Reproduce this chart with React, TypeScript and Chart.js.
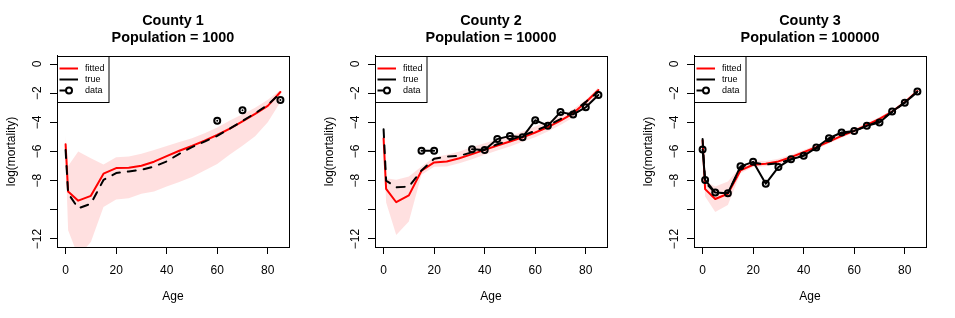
import React, { useEffect, useRef } from 'react';
import { Chart, registerables } from 'chart.js';

Chart.register(...registerables);
Chart.defaults.font.family = "'Liberation Sans', Arial, Helvetica, sans-serif";
Chart.defaults.color = '#000';

// ---------- data ----------
const ages = [0, 1, 5, 10, 15, 20, 25, 30, 35, 40, 45, 50, 55, 60, 65, 70, 75, 80, 85];
const xTicks = [0, 20, 40, 60, 80];
const yTicks = [0, -2, -4, -6, -8, -10, -12];
const yTickLabels = ['0', '\u22122', '\u22124', '\u22126', '\u22128', '', '\u221212'];

const countyTitles = ['County 1', 'County 2', 'County 3'];
const populationTitles = ['Population = 1000', 'Population = 10000', 'Population = 100000'];
const legendLabels = ['fitted', 'true', 'data'];
const xAxisTitle = 'Age';
const yAxisTitle = 'log(mortality)';

// County 1
const fitted1 = [-5.5, -8.75, -9.37, -9.04, -7.52, -7.14, -7.12, -6.98, -6.7, -6.32, -5.95, -5.62, -5.26, -4.87, -4.43, -3.93, -3.42, -2.87, -1.92];
const true1 = [-5.9, -8.87, -9.9, -9.58, -7.95, -7.48, -7.37, -7.26, -7.03, -6.68, -6.16, -5.7, -5.32, -4.93, -4.43, -3.9, -3.38, -2.8, -2.0];
const data1 = [null, null, null, null, null, null, null, null, null, null, null, null, null, -3.89, null, -3.18, null, null, -2.47];
const upper1 = [-4.9, -7.0, -6.0, -6.47, -6.9, -6.4, -6.35, -6.15, -5.9, -5.62, -5.35, -5.1, -4.75, -4.35, -3.88, -3.45, -3.0, -2.45, -1.78];
const lower1 = [-6.4, -11.4, -13.2, -12.2, -9.8, -9.3, -9.2, -8.9, -8.75, -8.4, -8.1, -7.75, -7.3, -6.85, -6.2, -5.6, -4.95, -4.0, -2.6];

// County 2
const fitted2 = [-5.1, -8.57, -9.48, -9.01, -7.32, -6.75, -6.68, -6.46, -6.18, -5.89, -5.59, -5.32, -5.02, -4.7, -4.33, -3.88, -3.38, -2.62, -1.78];
const true2 = [-4.48, -8.0, -8.46, -8.41, -7.3, -6.5, -6.34, -6.3, -6.05, -5.85, -5.5, -5.22, -4.92, -4.58, -4.22, -3.78, -3.26, -2.6, -1.9];
const data2 = [null, null, null, null, -5.95, -5.95, null, null, -5.85, -5.9, -5.15, -4.93, -5.02, -3.86, -4.23, -3.3, -3.46, -2.97, -2.13];
const upper2 = [-4.8, -7.84, -7.94, -7.71, -7.03, -6.39, -6.23, -6.0, -5.7, -5.43, -5.16, -4.93, -4.63, -4.29, -3.95, -3.56, -3.1, -2.46, -1.6];
const lower2 = [-5.4, -9.5, -11.73, -10.8, -7.6, -7.05, -7.03, -6.8, -6.53, -6.23, -5.93, -5.66, -5.34, -5.02, -4.63, -4.18, -3.67, -2.92, -2.0];

// County 3
const fitted3 = [-5.25, -8.58, -9.26, -8.9, -7.3, -6.91, -6.84, -6.68, -6.39, -6.05, -5.7, -5.32, -4.93, -4.59, -4.18, -3.76, -3.26, -2.62, -1.85];
const true3 = [-5.15, -8.1, -8.85, -8.85, -7.1, -6.75, -6.9, -6.8, -6.55, -6.25, -5.8, -5.2, -4.78, -4.6, -4.25, -3.9, -3.3, -2.65, -1.9];
const data3 = [-5.86, -7.95, -8.82, -8.86, -7.02, -6.71, -8.21, -7.07, -6.53, -6.3, -5.73, -5.09, -4.7, -4.59, -4.24, -4.02, -3.26, -2.65, -1.89];
const upper3 = [-5.1, -8.05, -8.4, -8.05, -7.05, -6.6, -6.65, -6.5, -6.22, -5.9, -5.56, -5.18, -4.8, -4.46, -4.05, -3.64, -3.14, -2.5, -1.72];
const lower3 = [-5.4, -9.08, -10.15, -9.67, -7.5, -7.07, -7.02, -6.85, -6.55, -6.2, -5.84, -5.46, -5.06, -4.72, -4.31, -3.88, -3.38, -2.74, -1.98];

const fittedAll = [fitted1, fitted2, fitted3];
const trueAll = [true1, true2, true3];
const dataAll = [data1, data2, data3];
const upperAll = [upper1, upper2, upper3];
const lowerAll = [lower1, lower2, lower3];

const panelLefts = [0, 318, 637];
const panelWidths = [318, 319, 318];

const RED = '#FF0000';
const BAND = 'rgba(255,0,0,0.12)';

function pts(arr: (number | null)[]) {
  return ages.map((a, i) => ({ x: a, y: arr[i] }));
}

function Panel({ idx, width }: { idx: number; width: number }) {
  const ref = useRef<HTMLCanvasElement>(null);
  useEffect(() => {
    if (!ref.current) return;
    const legendPlugin = {
      id: 'rBoxLegend',
      afterDraw(chart: any) {
        const { ctx, chartArea } = chart;
        const L = Math.round(chartArea.left) + 0.5;
        const T = Math.round(chartArea.top) + 0.5;
        const R = Math.round(chartArea.right) + 0.5;
        const B = Math.round(chartArea.bottom) + 0.5;
        ctx.save();
        ctx.strokeStyle = '#000';
        ctx.lineWidth = 1;
        ctx.strokeRect(L, T, R - L, B - T);
        // legend box
        const lw = 51.5, lh = 46;
        ctx.fillStyle = '#fff';
        ctx.fillRect(L, T, lw, lh);
        ctx.strokeRect(L, T, lw, lh);
        const rows = [T + 12, T + 23, T + 34];
        ctx.lineCap = 'butt';
        ctx.lineWidth = 2;
        ctx.strokeStyle = RED;
        ctx.beginPath(); ctx.moveTo(L + 2, rows[0]); ctx.lineTo(L + 20.5, rows[0]); ctx.stroke();
        ctx.strokeStyle = '#000';
        ctx.beginPath(); ctx.moveTo(L + 2, rows[1]); ctx.lineTo(L + 20.5, rows[1]); ctx.stroke();
        ctx.beginPath(); ctx.moveTo(L + 2, rows[2]); ctx.lineTo(L + 11, rows[2]); ctx.stroke();
        ctx.beginPath(); ctx.arc(L + 11.5, rows[2], 3, 0, Math.PI * 2); ctx.fillStyle = '#fff'; ctx.fill(); ctx.stroke();
        ctx.fillStyle = '#000';
        ctx.font = "9px 'Liberation Sans', Arial, sans-serif";
        ctx.textBaseline = 'middle';
        ctx.textAlign = 'left';
        legendLabels.forEach((t, i) => ctx.fillText(t, L + 27.5, rows[i]));
        ctx.restore();
      },
    };

    const chart = new Chart(ref.current, {
      type: 'line',
      data: {
        datasets: [
          {
            label: 'lower',
            data: pts(lowerAll[idx]),
            borderColor: 'rgba(0,0,0,0)',
            borderWidth: 0,
            pointRadius: 0,
            fill: false,
            order: 5,
          },
          {
            label: 'upper',
            data: pts(upperAll[idx]),
            borderColor: 'rgba(0,0,0,0)',
            borderWidth: 0,
            backgroundColor: BAND,
            pointRadius: 0,
            fill: '-1',
            order: 4,
          },
          {
            label: legendLabels[0],
            data: pts(fittedAll[idx]),
            borderColor: RED,
            borderWidth: 2,
            pointRadius: 0,
            fill: false,
            borderJoinStyle: 'round',
            borderCapStyle: 'round',
            order: 3,
          },
          {
            label: legendLabels[1],
            data: pts(trueAll[idx]),
            borderColor: '#000',
            borderWidth: 2,
            borderDash: [8, 8],
            borderCapStyle: 'round',
            borderJoinStyle: 'round',
            pointRadius: 0,
            fill: false,
            order: 2,
          },
          {
            label: legendLabels[2],
            data: pts(dataAll[idx]),
            borderColor: '#000',
            borderWidth: 2,
            borderJoinStyle: 'round',
            borderCapStyle: 'round',
            pointRadius: 3,
            pointBorderWidth: 2,
            pointBorderColor: '#000',
            pointBackgroundColor: 'rgba(0,0,0,0)',
            spanGaps: false,
            fill: false,
            order: 1,
          },
        ],
      },
      options: {
        responsive: false,
        animation: false,
        events: [],
        layout: { padding: { left: 0, right: width - 289, top: 0, bottom: 0 } },
        plugins: {
          legend: { display: false },
          tooltip: { enabled: false },
          title: {
            display: true,
            fullSize: false,
            text: [countyTitles[idx], populationTitles[idx]],
            color: '#000',
            font: { size: 14.4, weight: 'bold', lineHeight: 1.18 },
            padding: { top: 12.5, bottom: 9.5 },
          },
        },
        scales: {
          x: {
            type: 'linear',
            min: -3.4,
            max: 88.4,
            afterBuildTicks: (s: any) => {
              s.ticks = xTicks.map((v) => ({ value: v }));
            },
            afterFit: (s: any) => {
              s.height = 71;
            },
            ticks: { color: '#000', font: { size: 12 }, padding: 9, maxRotation: 0, autoSkip: false },
            grid: { drawOnChartArea: false, drawTicks: true, tickLength: 7, color: '#000', lineWidth: 1 },
            border: { display: true, color: '#000', width: 1 },
            title: { display: true, text: xAxisTitle, color: '#000', font: { size: 12 }, padding: { top: 0, bottom: 14.5 } },
          },
          y: {
            type: 'linear',
            min: -12.55,
            max: 0.55,
            afterBuildTicks: (s: any) => {
              s.ticks = yTicks.map((v) => ({ value: v }));
            },
            afterFit: (s: any) => {
              s.width = 57;
            },
            ticks: {
              color: '#000',
              font: { size: 12 },
              padding: 2,
              minRotation: 90,
              maxRotation: 90,
              crossAlign: 'center',
              autoSkip: false,
              callback: (v: any) => {
                const i = yTicks.indexOf(Number(v));
                return i >= 0 ? yTickLabels[i] : '';
              },
            },
            grid: { drawOnChartArea: false, drawTicks: true, tickLength: 7, color: '#000', lineWidth: 1 },
            border: { display: true, color: '#000', width: 1 },
            title: { display: true, text: yAxisTitle, color: '#000', font: { size: 12 }, padding: { top: 4.5, bottom: 0 } },
          },
        },
      },
      plugins: [legendPlugin],
    } as any);
    return () => chart.destroy();
  }, [idx, width]);
  return <canvas ref={ref} width={width} height={318} style={{ display: 'block', width, height: 318 }} />;
}

export default function App() {
  return (
    <div style={{ position: 'absolute', left: 0, top: 0, width: 955, height: 318, background: '#fff' }}>
      {[0, 1, 2].map((i) => (
        <div key={i} style={{ position: 'absolute', left: panelLefts[i], top: 0, width: panelWidths[i], height: 318 }}>
          <Panel idx={i} width={panelWidths[i]} />
        </div>
      ))}
    </div>
  );
}
